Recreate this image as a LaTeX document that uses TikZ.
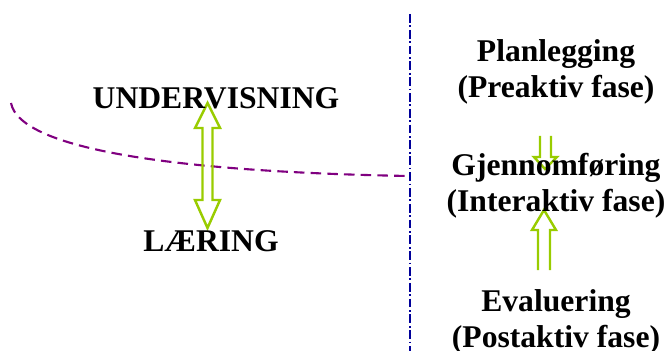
\documentclass[tikz,border=0pt]{standalone}
\usepackage{fontspec}
\setmainfont{Liberation Serif}
\definecolor{phasegreen}{HTML}{99CC00}
\definecolor{curvepurple}{HTML}{800080}
\definecolor{linenavy}{HTML}{000099}
\begin{document}
\begin{tikzpicture}[x=0.02cm, y=-0.02cm,
  word/.style={font=\bfseries\fontsize{18}{20.5}\selectfont, align=center, inner sep=0pt},
  hollow/.style={draw=phasegreen, line width=1.4pt, line join=miter}]
  \useasboundingbox (0,0) rectangle (669,351);

  % Divider
  \draw[linenavy, line width=1pt, dash pattern=on 5pt off 1.5pt on 1pt off 1.5pt] (410,14) -- (410,351);

  % Curve
  \draw[curvepurple, line width=1.2pt, dash pattern=on 6pt off 3.5pt] (11,103) .. controls (20,150) and (180,172) .. (409,176);

  % Double arrow
  \draw[hollow] (207.5,103) -- (220,128) -- (212.5,128) -- (212.5,200) -- (220,200) -- (207.5,228)
    -- (195,200) -- (202.5,200) -- (202.5,128) -- (195,128) -- cycle;

  % Phase arrows
  \draw[hollow] (540,136) -- (540,157) -- (534,157) -- (545,169) -- (557,157) -- (551,157) -- (551,136);
  \draw[hollow] (538,270) -- (538,230) -- (532,230) -- (544,210) -- (556,230) -- (550,230) -- (550,270);

  % Left labels
  \node[word] (undervisning) at (216,98.5) {UNDERVISNING};
  \node[word] (laering) at (211,241) {LÆRING};

  % Phases
  \node[word] (plan) at (556,72) {Planlegging\\(Preaktiv fase)};
  \node[word] (gjennom) at (556,186) {Gjennomføring\\(Interaktiv fase)};
  \node[word] (eval) at (556,322) {Evaluering\\(Postaktiv fase)};

\end{tikzpicture}
\end{document}
